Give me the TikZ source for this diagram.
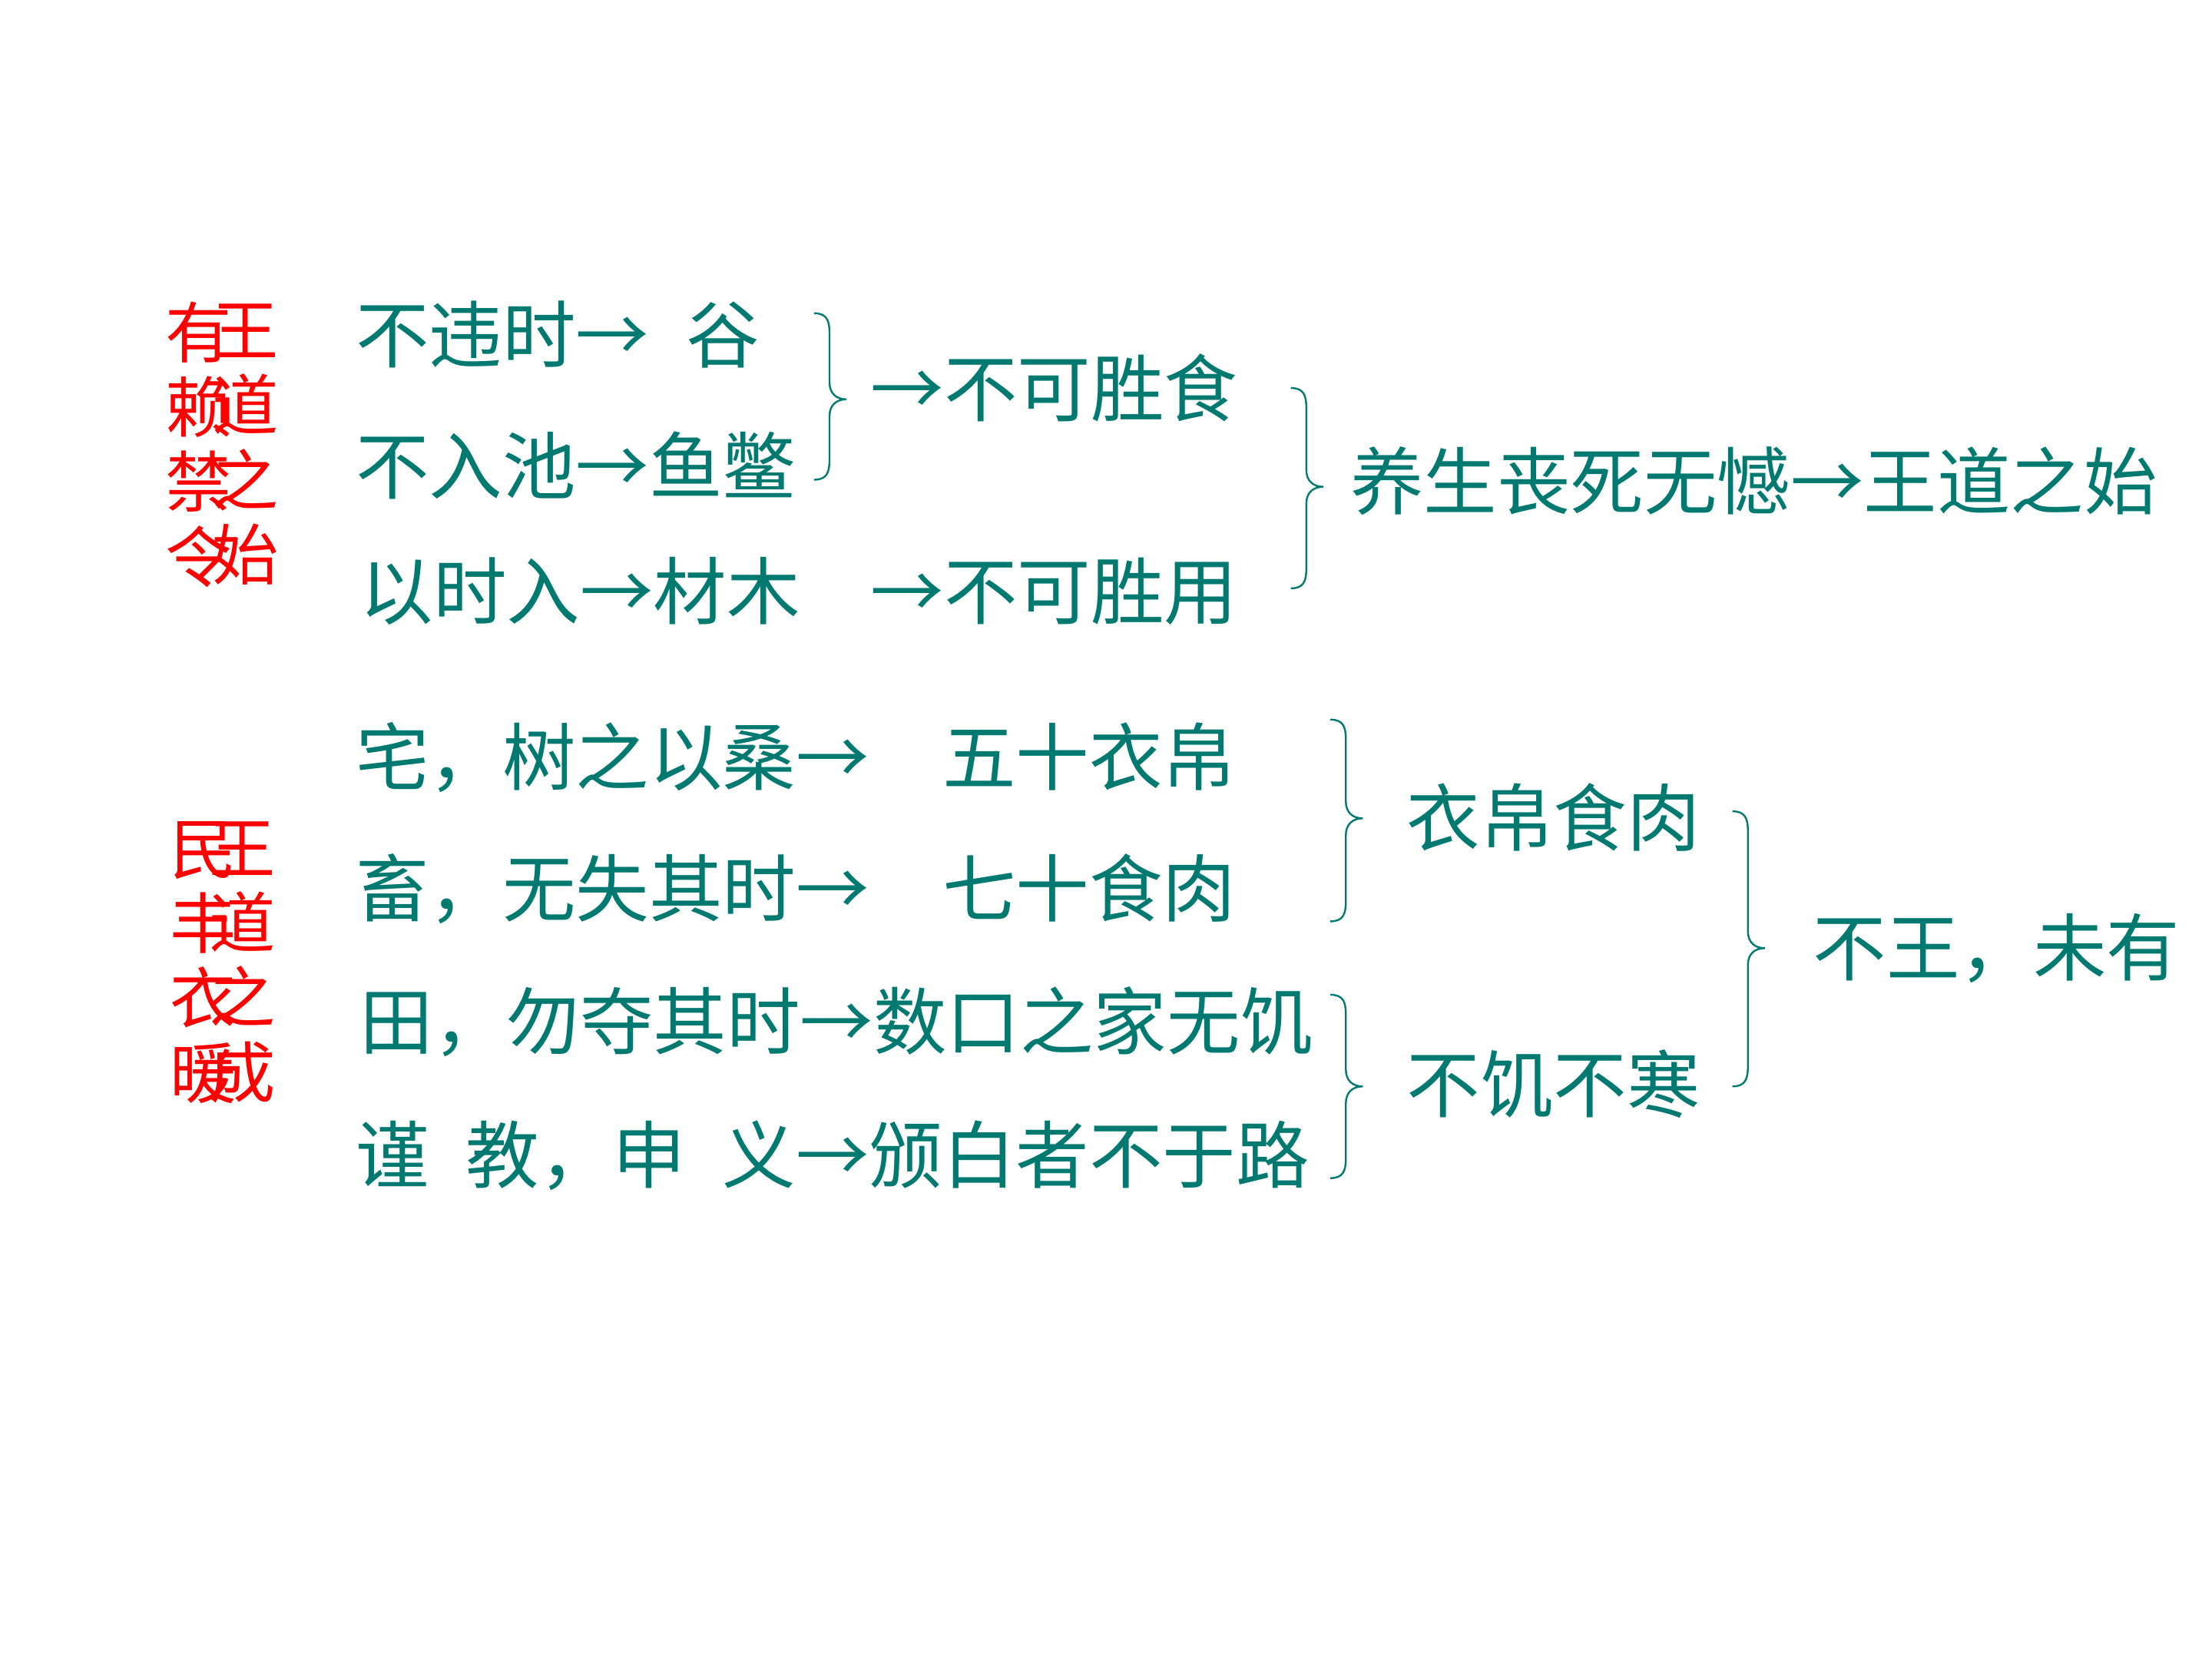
\documentclass[tikz,border=0pt]{standalone}
\usepackage{fontspec}
\newfontfamily\cjk{Noto Sans CJK SC}
\definecolor{tealtxt}{RGB}{0,122,112}
\definecolor{redtxt}{RGB}{255,0,0}
\newcommand\mybrace[4]{%
  \draw[bracestyle] (#1,#2) .. controls ({#1+9},#2) and ({#1+11},{#2+5}) .. ({#1+11},{#2+14})
    -- ({#1+11},{#3-12}) .. controls ({#1+11},{#3-4}) and ({#1+16},#3) .. ({#1+23},#3)
    .. controls ({#1+16},#3) and ({#1+11},{#3+4}) .. ({#1+11},{#3+12})
    -- ({#1+11},{#4-14}) .. controls ({#1+11},{#4-5}) and ({#1+9},#4) .. (#1,#4);}
\begin{document}
\begin{tikzpicture}[x=1pt,y=-1pt,
  t/.style={anchor=west,inner sep=0pt,text=tealtxt,font=\cjk\fontsize{52}{60}\selectfont},
  redcol/.style={inner sep=0pt,text=redtxt,align=center,font=\cjk\fontsize{47}{53}\selectfont},
  bracestyle/.style={draw=tealtxt,line width=1.3pt}]
\useasboundingbox[fill=white] (0,0) rectangle (1568,1176);

% red overlapping columns
\node[redcol] (a1) at (141,315) {有\\赖\\禁\\令};
\node[redcol] (a2) at (174,315) {王\\道\\之\\始};
\node[redcol] (b1) at (144,682) {民\\丰\\衣\\暖};
\node[redcol] (b2) at (172,682) {王\\道\\之\\成};

% upper part
\node[t] (r1) at (252,237) {不违时→\hspace{0.5em}谷};
\node[t] (r2) at (252,330) {不入池→鱼鳖};
\node[t] (r3) at (255,419) {以时入→材木};
\node[t] (s1) at (617,275) {→不可胜食};
\node[t] (s2) at (617,419) {→不可胜用};
\node[t] (g1) at (957,341) {养生丧死无憾→王道之始};

% lower part
\node[t] (r4) at (252,537) {宅，树之以桑→\hspace{1em}五十衣帛};
\node[t] (r5) at (252,630) {畜，无失其时→\hspace{1em}七十食肉};
\node[t] (r6) at (255,724) {田，勿夺其时→数口之家无饥};
\node[t] (r7) at (252,819) {谨\hspace{0.5em}教，申\hspace{0.5em}义→颁白者不于路};
\node[t] (m1) at (997,579) {衣帛食肉};
\node[t] (m2) at (997,768) {不饥不寒};
\node[t] (f) at (1285,672) {不王，未有};

% braces
\mybrace{577}{222}{283}{340}
\mybrace{915}{275}{345}{417}
\mybrace{943}{510}{580}{653}
\mybrace{943}{705}{770}{835}
\mybrace{1228}{575}{672}{770}
\end{tikzpicture}
\end{document}
